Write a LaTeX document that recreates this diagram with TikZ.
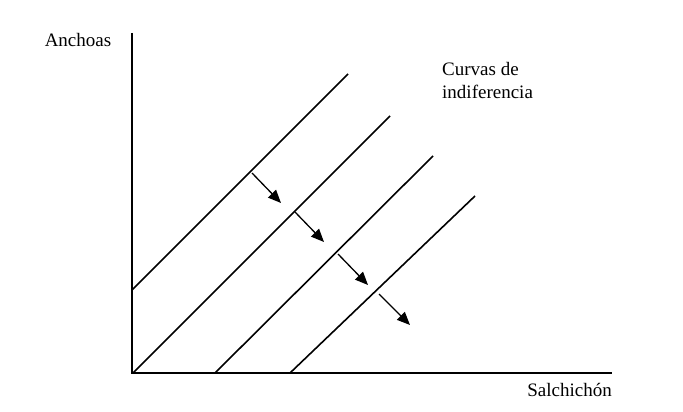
\documentclass[tikz,border=0pt]{standalone}
\usepackage{fontspec}
\setmainfont{Liberation Serif}
\usetikzlibrary{arrows.meta}
\begin{document}
\begin{tikzpicture}[x=1pt,y=-1pt,
  axis/.style={line width=1.9pt},
  icurve/.style={line width=1.6pt},
  shift arrow/.style={line width=1.3pt,-{Triangle[length=13pt,width=11pt]}},
  lbl/.style={inner sep=0pt,font=\fontsize{19}{23}\selectfont}]
\useasboundingbox (0,0) rectangle (683,412);
% axes
\coordinate (O) at (132,373);
\coordinate (ytop) at (132,33);
\coordinate (xend) at (612,373);
\draw[axis] (ytop) -- (O) -- (xend);
% indifference curves
\coordinate (a1) at (132,290); \coordinate (b1) at (348,74);
\coordinate (a2) at (133,373); \coordinate (b2) at (390,116);
\coordinate (a3) at (215,373); \coordinate (b3) at (433,156);
\coordinate (a4) at (290,373); \coordinate (b4) at (475,196);
\draw[icurve] (a1) -- (b1);
\draw[icurve] (a2) -- (b2);
\draw[icurve] (a3) -- (b3);
\draw[icurve] (a4) -- (b4);
% arrows
\coordinate (s1) at (252,173); \coordinate (e1) at (281,203);
\coordinate (s2) at (295,212); \coordinate (e2) at (324,242);
\coordinate (s3) at (338,254); \coordinate (e3) at (368,285);
\coordinate (s4) at (379,294); \coordinate (e4) at (410,325);
\draw[shift arrow] (s1) -- (e1);
\draw[shift arrow] (s2) -- (e2);
\draw[shift arrow] (s3) -- (e3);
\draw[shift arrow] (s4) -- (e4);
% labels
\node[lbl,anchor=base] (anch) at (78,47) {Anchoas};
\node[lbl,anchor=base east] (salch) at (612,396) {Salchichón};
\node[lbl,anchor=base west,align=left] (curv) at (442,99) {Curvas de\\indiferencia};
\end{tikzpicture}
\end{document}
